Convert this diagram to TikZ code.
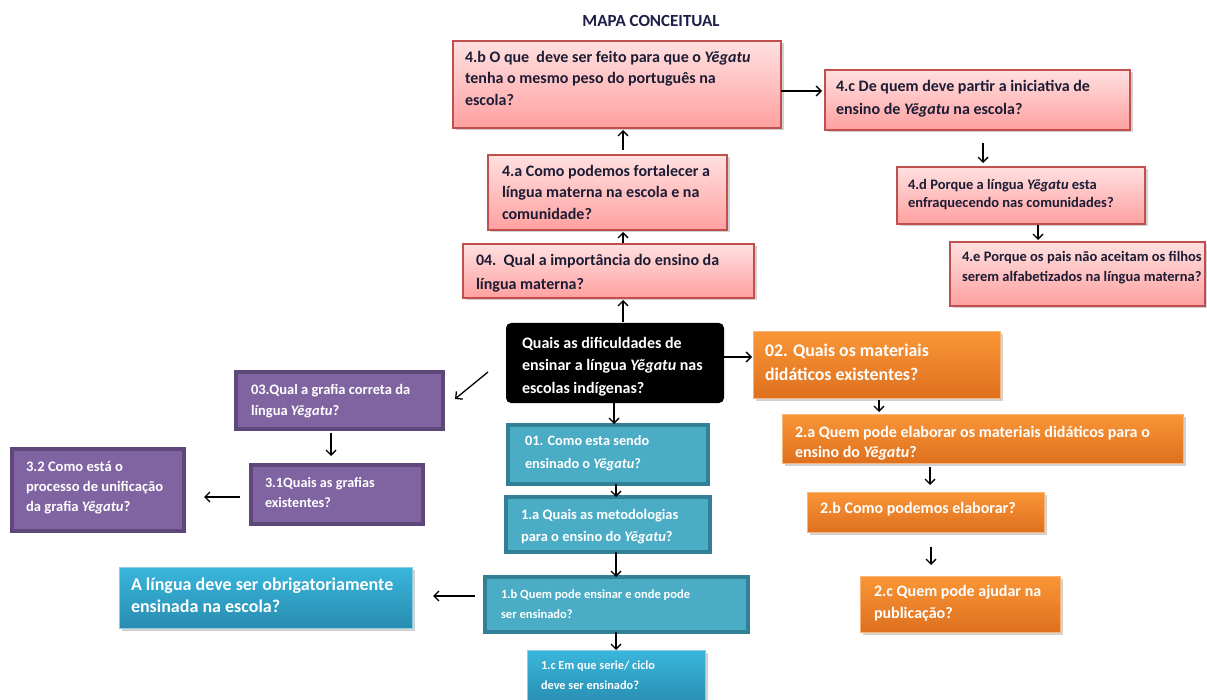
\documentclass[tikz,border=0pt]{standalone}
\usepackage{fontspec}
\setmainfont{Carlito}
\usetikzlibrary{arrows.meta,shadows,calc}

\definecolor{pinkedge}{RGB}{192,80,77}
\definecolor{pinktop}{RGB}{255,224,224}
\definecolor{pinkbot}{RGB}{255,160,160}
\definecolor{pinkink}{RGB}{28,28,52}
\definecolor{orangeedge}{RGB}{250,180,120}
\definecolor{orangetop}{RGB}{250,150,55}
\definecolor{orangebot}{RGB}{222,112,30}
\definecolor{purplefill}{RGB}{128,100,162}
\definecolor{purpleedge}{RGB}{94,72,122}
\definecolor{tealfill}{RGB}{75,172,198}
\definecolor{tealedge}{RGB}{49,128,150}
\definecolor{skytop}{RGB}{58,182,220}
\definecolor{skybot}{RGB}{40,140,176}
\definecolor{skyedge}{RGB}{140,205,225}
\definecolor{titleink}{RGB}{30,30,70}

% box content: width, height, left pad, top pad, font size, leading, text
\newcommand\qtext[7]{\parbox[t][#2pt][t]{#1pt}{\fontsize{#5pt}{#6pt}\selectfont\bfseries\raggedright\leftskip=#3pt\relax\vspace*{\dimexpr#4pt+1.5pt\relax}\rule{0pt}{0.75em}#7}}
\newcommand\yg{\textit{Yẽgatu}}

\tikzset{
  qbox/.style={inner sep=0pt, outer sep=0pt, anchor=north west},
  shade/.style={drop shadow={shadow xshift=2.5pt, shadow yshift=-2.5pt, opacity=0.35}},
  pinkbox/.style={qbox, shade, draw=pinkedge, line width=1.2pt, top color=pinktop, bottom color=pinkbot, text=pinkink},
  orangebox/.style={qbox, shade, draw=orangeedge, line width=1pt, top color=orangetop, bottom color=orangebot, text=white},
  purplebox/.style={qbox, draw=purpleedge, line width=3.5pt, fill=purplefill, text=white},
  tealbox/.style={qbox, draw=tealedge, line width=3.5pt, fill=tealfill, text=white},
  skybox/.style={qbox, shade, draw=skyedge, line width=1pt, top color=skytop, bottom color=skybot, text=white},
  darkbox/.style={qbox, fill=black, rounded corners=5pt, text=white},
  arr/.style={-{Straight Barb[length=5pt,width=10pt]}, line width=1.3pt, black},
}

\begin{document}
\begin{tikzpicture}[x=1pt, y=-1pt]
\useasboundingbox[fill=white] (0,0) rectangle (1207,700);

\node[font=\bfseries\fontsize{17pt}{19pt}\selectfont, text=titleink] (title) at (651,21) {MAPA CONCEITUAL};

% branch 4 (pink)
\node[pinkbox] (b4b) at (453,41) {\qtext{328}{87}{12}{8}{16}{21.5}{4.b O que\ \ deve ser feito para que o \yg\\ tenha o mesmo peso do português na\\ escola?}};
\node[pinkbox] (b4c) at (825,70) {\qtext{305}{60}{11}{8}{16}{23}{4.c De quem deve partir a iniciativa de\\ ensino de \yg{} na escola?}};
\node[pinkbox] (b4a) at (488,155) {\qtext{239}{75}{14}{8}{16}{21.5}{4.a Como podemos fortalecer a\\ língua materna na escola e na\\ comunidade?}};
\node[pinkbox] (b04) at (463,244) {\qtext{291}{54}{13}{8}{16}{24}{04.\ \ Qual a importância do ensino da\\ língua materna?}};
\node[pinkbox] (b4d) at (897,167) {\qtext{248}{57}{11}{9.8}{14.5}{18}{4.d Porque a língua \yg{} esta\\ enfraquecendo nas comunidades?}};
\node[pinkbox] (b4e) at (950,242) {\qtext{255}{64}{12}{6.8}{14.5}{20}{4.e Porque os pais não aceitam os filhos\\ serem alfabetizados na língua materna?}};

% central question
\node[darkbox] (blk) at (506,323) {\qtext{218}{80}{16}{12}{16}{22.5}{Quais as dificuldades de\\ ensinar a língua \yg{} nas\\ escolas indígenas?}};

% branch 2 (orange)
\node[orangebox] (b02) at (753,332) {\qtext{247}{66}{12}{10}{17.8}{24}{02. Quais os materiais\\ didáticos existentes?}};
\node[orangebox] (b2a) at (782,414) {\qtext{401}{49}{13}{10}{16}{20}{2.a Quem pode elaborar os materiais didáticos para o\\ ensino do \yg?}};
\node[orangebox] (b2b) at (807,492) {\qtext{237}{40}{13}{8}{16}{20}{2.b Como podemos elaborar?}};
\node[orangebox] (b2c) at (860,576) {\qtext{200}{56}{14}{7}{16}{22}{2.c Quem pode ajudar na\\ publicação?}};

% branch 3 (purple)
\node[purplebox] (b03) at (236,372) {\qtext{207}{57}{15}{9.8}{14.5}{21}{03.Qual a grafia correta da\\ língua \yg?}};
\node[purplebox] (b31) at (251,465) {\qtext{172}{59}{14}{10}{14.2}{20}{3.1Quais as grafias\\ existentes?}};
\node[purplebox] (b32) at (12,449) {\qtext{172}{82}{14}{9.8}{14.6}{20}{3.2 Como está o\\ processo de unificação\\ da grafia \yg?}};

% branch 1 (teal)
\node[tealbox] (b01) at (508,425) {\qtext{200}{59}{17}{7.9}{14.3}{23}{01. Como esta sendo\\ ensinado o \yg?}};
\node[tealbox] (b1a) at (506,497) {\qtext{204}{55}{15}{9.8}{14.5}{22}{1.a Quais as metodologias\\ para o ensino do \yg?}};
\node[tealbox] (b1b) at (485,577) {\qtext{263}{55}{16}{10.8}{12.5}{20}{1.b Quem pode ensinar e onde pode\\ ser ensinado?}};
\node[skybox] (b1c) at (527,650) {\qtext{178}{56}{14}{8.9}{12.3}{20}{1.c Em que serie/ ciclo\\ deve ser ensinado?}};
\node[skybox] (bal) at (119,567) {\qtext{293}{61}{12}{8}{18}{22}{A língua deve ser obrigatoriamente\\ ensinada na escola?}};

% connectors
\draw[arr] ($(b4b.east)+(0,6.5)$) -- ($(b4c.west)+(-3,-9)$);
\draw[arr] ($(b4a.north)+(15.5,-5)$) -- ($(b4b.south)+(6,2)$);
\draw[arr] ($(b04.north)+(14.5,-1)$) -- ($(b4a.south)+(15.5,2)$);
\draw[arr] ($(blk.north)+(8,-1)$) -- ($(b04.south)+(14.5,2)$);
\draw[arr] ($(blk.east)+(0,-6)$) -- ($(b02.west)+(-1,-8)$);
\draw[arr] ($(blk.west)+(-18,9)$) -- ($(b03.east)+(12,-1.5)$);
\draw[arr] ($(blk.south)+(-1,0)$) -- ($(b01.north)+(6,-1)$);
\draw[arr] ($(b4c.south)+(5.5,13)$) -- ($(b4d.north)+(-38,-4)$);
\draw[arr] ($(b4d.south)+(17,1)$) -- ($(b4e.north)+(-39.5,-2)$);
\draw[arr] ($(b02.south)+(2.5,2)$) -- ($(b2a.north)+(-103.5,-2)$);
\draw[arr] ($(b2a.south)+(-52.5,4)$) -- ($(b2b.north)+(4.5,-7)$);
\draw[arr] ($(b2b.south)+(5.5,15)$) -- ($(b2c.north)+(-29,-11)$);
\draw[arr] ($(b03.south)+(-8.5,4)$) -- ($(b31.north)+(-6,-9)$);
\draw[arr] ($(b31.west)+(-11,2.5)$) -- ($(b32.east)+(20,7)$);
\draw[arr] ($(b01.south)+(8,0)$) -- ($(b1a.north)+(8,0)$);
\draw[arr] ($(b1a.south)+(8,0)$) -- ($(b1b.north)+(-0.5,0)$);
\draw[arr] ($(b1b.west)+(-10,-8.5)$) -- ($(bal.east)+(21,-1.5)$);
\draw[arr] ($(b1b.south)+(-0.5,0)$) -- (b1c.north);
\end{tikzpicture}
\end{document}
